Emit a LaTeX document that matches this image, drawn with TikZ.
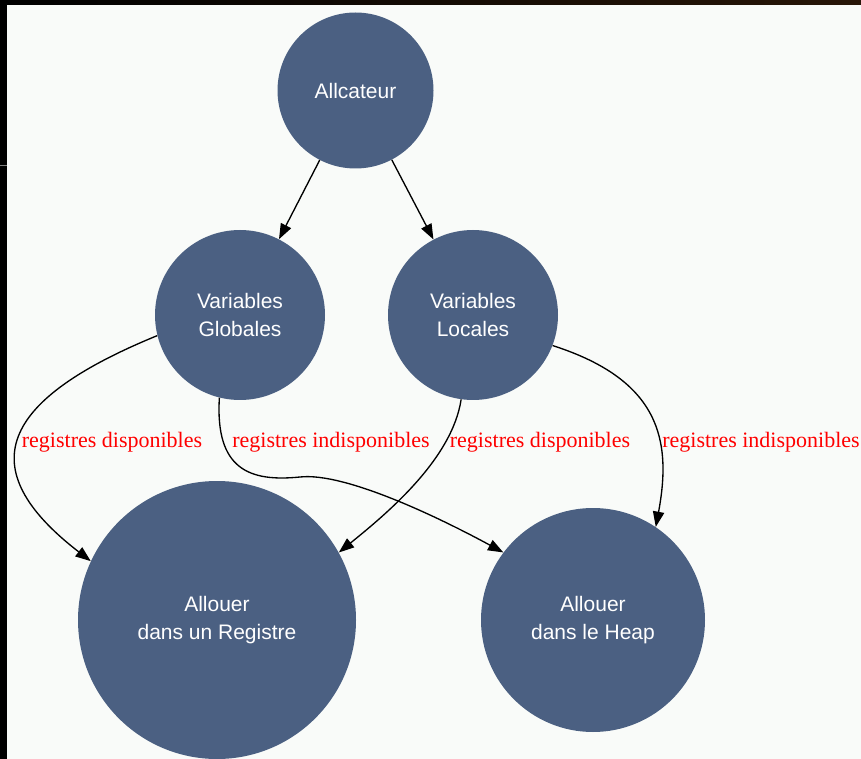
\documentclass[tikz,border=0pt]{standalone}
\usepackage{fontspec}
\setmainfont{Liberation Serif}
\setsansfont{Liberation Sans}
\usetikzlibrary{arrows.meta,shapes.geometric}
\definecolor{nodeblue}{RGB}{75,96,130}
\definecolor{bgcol}{RGB}{249,251,249}
\definecolor{darkbrown}{RGB}{40,22,8}
\begin{document}
\begin{tikzpicture}[x=0.75pt,y=-0.75pt,
  vnode/.style={circle,fill=nodeblue,text=white,font=\sffamily\fontsize{15.75}{21}\selectfont,align=center,inner sep=0pt},
  edge/.style={draw=black,line width=1pt,-{Triangle[length=11.5pt,width=8.5pt]}},
  lbl/.style={text=red,font=\rmfamily\fontsize{16.5}{20}\selectfont,inner sep=0pt}]
\fill[bgcol] (0,0) rectangle (861,759);
\useasboundingbox (0,0) rectangle (861,759);
\shade[left color=black,right color=darkbrown] (0,0) rectangle (861,5);
\fill[black] (0,0) rectangle (7,759);
\draw[gray,line width=0.75pt] (0,165.5) -- (7,165.5);

\node[vnode,minimum size=117pt] (alloc) at (355.5,90.5) {Allcateur};
\node[vnode,minimum size=127.5pt] (glob) at (240,315) {Variables\\Globales};
\node[vnode,minimum size=127.5pt] (loc) at (473,315) {Variables\\Locales};
\node[vnode,minimum size=208.5pt] (reg) at (217,620) {Allouer\\dans un Registre};
\node[vnode,minimum size=168pt] (heap) at (593,620) {Allouer\\dans le Heap};

\draw[edge] (alloc) -- (glob);
\draw[edge] (alloc) -- (loc);
\draw[edge] (glob.194) .. controls (0,400) and (-30,468) .. (reg.155);
\draw[edge] (glob.256) .. controls (215,470) and (250,482) .. (300,477)
  .. controls (345,472) and (440,518) .. (heap.143);
\draw[edge] (loc.262) .. controls (452,460) and (385,515) .. (reg.29);
\draw[edge] (loc.339) .. controls (660,380) and (672,440) .. (heap.56);

\node[lbl] (l1) at (112,442) {registres disponibles};
\node[lbl] (l2) at (331,442) {registres indisponibles};
\node[lbl] (l3) at (540,442) {registres disponibles};
\node[lbl] (l4) at (761,442) {registres indisponibles};
\end{tikzpicture}
\end{document}
